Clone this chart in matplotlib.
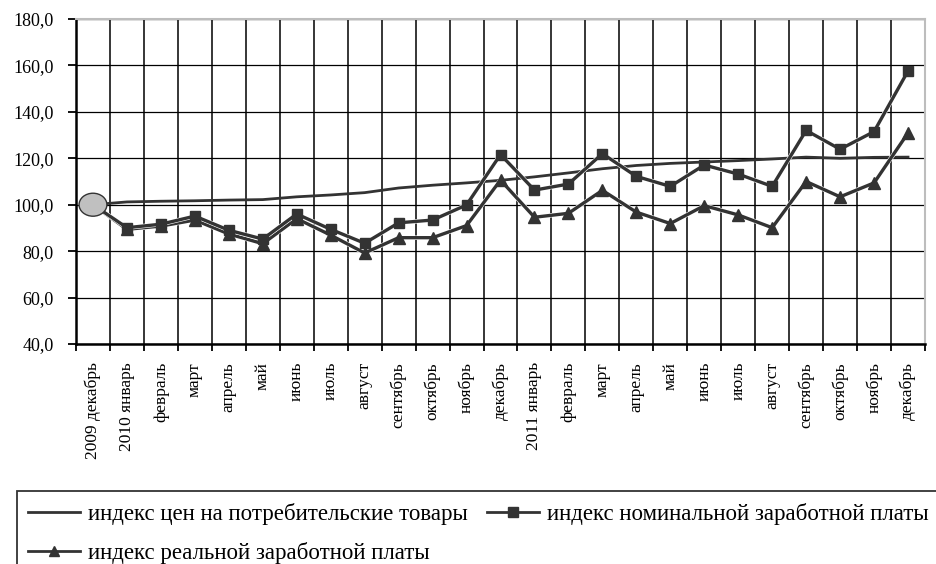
import matplotlib
matplotlib.use('Agg')
import matplotlib.pyplot as plt
from matplotlib.patches import Ellipse, Rectangle
import matplotlib.patheffects as pe

plt.rcParams['font.family'] = ['Liberation Serif', 'DejaVu Serif']

categories = ["2009 декабрь", "2010 январь", "февраль", "март", "апрель", "май",
              "июнь", "июль", "август", "сентябрь", "октябрь", "ноябрь", "декабрь",
              "2011 январь", "февраль", "март", "апрель", "май", "июнь", "июль",
              "август", "сентябрь", "октябрь", "ноябрь", "декабрь"]

cpi = [100.0, 101.2, 101.5, 101.7, 102.0, 102.2, 103.4, 104.2, 105.2, 107.2, 108.4,
       109.4, 110.5, 112.0, 113.7, 115.5, 116.9, 117.8, 118.4, 119.0, 119.7, 120.5,
       120.0, 120.4, 120.5]

nominal = [100.0, 90.1, 91.6, 95.1, 89.0, 85.2, 96.0, 89.4, 83.4, 92.2, 93.4, 99.9,
           121.6, 106.3, 108.9, 122.0, 112.2, 107.9, 117.1, 113.2, 107.9, 132.0,
           123.9, 131.5, 157.6]

real = [100.0, 89.4, 90.8, 93.4, 87.4, 83.2, 94.0, 86.9, 79.2, 85.8, 85.8, 91.0,
        110.6, 94.6, 96.3, 106.2, 96.8, 91.9, 99.6, 95.6, 90.1, 110.0, 103.4,
        109.4, 130.9]

yticks = [40, 60, 80, 100, 120, 140, 160, 180]

labels = ["индекс цен на потребительские товары",
          "индекс номинальной заработной платы",
          "индекс реальной заработной платы"]

W, H = 936, 564
fig = plt.figure(figsize=(W / 100, H / 100), dpi=100)
ax = fig.add_axes([76 / W, 1 - 344 / H, (925 - 76) / W, (344 - 19) / H])

n = len(categories)
x = list(range(n))
ax.set_xlim(-0.5, n - 0.5)
ax.set_ylim(yticks[0], yticks[-1])

# y axis
ax.set_yticks(yticks)
ax.set_yticklabels([f"{v:.1f}".replace('.', ',') for v in yticks], fontsize=13)
ax.tick_params(axis='y', length=6, width=1.3, direction='out', pad=10, colors='black')
ax.yaxis.grid(True, color='black', lw=0.9)
ax.set_axisbelow(True)

# x axis: ticks at category boundaries, labels at centers
ax.set_xticks([i - 0.5 for i in range(n + 1)])
ax.set_xticklabels([])
ax.set_xticks(x, minor=True)
ax.set_xticklabels(categories, minor=True, rotation=90, fontsize=12.5)
ax.tick_params(axis='x', which='major', length=5, width=1.3, direction='out')
ax.tick_params(axis='x', which='minor', length=0, pad=13)
ax.vlines([i + 0.5 for i in range(n - 1)], yticks[0], yticks[-1],
          colors='black', lw=1.1, zorder=1.5)

for s in ['left', 'bottom']:
    ax.spines[s].set_color('black')
    ax.spines[s].set_linewidth(1.8)
for s in ['top', 'right']:
    ax.spines[s].set_color('#bdbdbd')
    ax.spines[s].set_linewidth(1.5)

dark = '#333333'
stroke = [pe.Stroke(linewidth=3.2, foreground='white'), pe.Normal()]
l_cpi, = ax.plot(x, cpi, color=dark, lw=2.0, zorder=3)
l_nom, = ax.plot(x, nominal, color=dark, lw=2.4, zorder=3.2, path_effects=stroke)
ax.plot(x, nominal, color=dark, lw=0, marker='s', markersize=7.5, zorder=3.25)
l_real, = ax.plot(x, real, color=dark, lw=2.4, zorder=3.1, path_effects=stroke)
ax.plot(x, real, color=dark, lw=0, marker='^', markersize=8, zorder=3.15)

ax.add_patch(Ellipse((x[0], cpi[0]), width=0.82, height=9.9, facecolor='#c0c0c0',
                     edgecolor=dark, lw=1.0, zorder=5))

# legend frame (extends past figure edges as in the reference)
fig.patches.append(Rectangle((17 / W, -0.1), 1.0, (1 - 491 / H) + 0.1,
                             transform=fig.transFigure, fill=False,
                             ec='#333333', lw=1.3))

def add_entry(label, marker, px, py):
    h = plt.Line2D([], [], color=dark, lw=2.0, marker=marker, markersize=7)
    fig.legend(handles=[h], labels=[label], loc='center left',
               bbox_to_anchor=(px / W, 1 - py / H), frameon=False,
               borderpad=0, borderaxespad=0, handlelength=2.25,
               handletextpad=0.36, fontsize=16.5)

add_entry(labels[0], 'None', 28, 514)
add_entry(labels[1], 's', 487, 514)
add_entry(labels[2], '^', 28, 553)

fig.savefig('out.png', dpi=100)
